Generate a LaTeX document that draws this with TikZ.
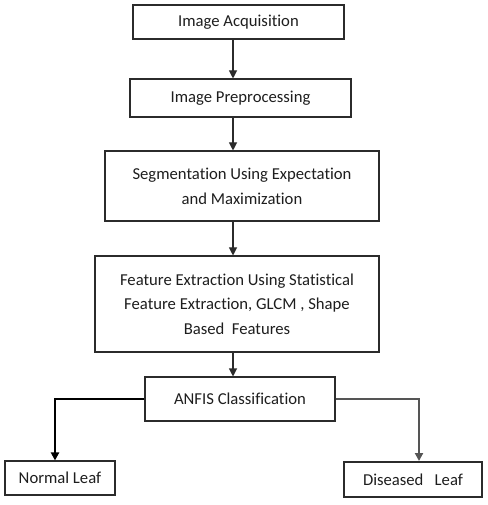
\documentclass[tikz,border=0pt]{standalone}
\usepackage{fontspec}
\setmainfont{Carlito}[Ligatures=NoCommon]
\usetikzlibrary{arrows.meta,positioning}
\definecolor{boxline}{HTML}{2B2B2B}
\definecolor{textgray}{HTML}{1E1E1E}
\tikzset{
  stagebox/.style={draw=boxline, line width=0.8pt, fill=white, align=center, inner sep=2pt, text=textgray, font=\fontsize{12.5}{18.5}\selectfont},
  heavybox/.style={stagebox, line width=1.5pt},
  flow/.style={boxline, line width=0.8pt, -{Triangle[width=6pt,length=6pt]}},
  branch/.style={black, line width=1.5pt, -{Triangle[width=6pt,length=6pt]}}
}

\begin{document}
\begin{tikzpicture}[x=0.75pt, y=-0.75pt]
  \useasboundingbox (0,0) rectangle (487,505);
  % pipeline stages
  \node[heavybox, minimum width=158.25pt, minimum height=25.5pt] (acq) at (238.5,22) {Image Acquisition};
  \node[stagebox, minimum width=165.75pt, minimum height=28.5pt] (pre) at (240.5,98) {Image Preprocessing};
  \node[stagebox, minimum width=205.5pt, minimum height=52.5pt] (seg) at (242,186) {Segmentation Using Expectation\\and Maximization};
  \node[stagebox, minimum width=213pt, minimum height=72pt] (feat) at (237,304) {Feature Extraction Using Statistical\\Feature Extraction, GLCM , Shape\\Based\ \ Features};
  \node[stagebox, minimum width=142.5pt, minimum height=33pt] (anfis) at (240,399) {ANFIS Classification};
  % outcomes
  \node[stagebox, minimum width=82.5pt, minimum height=25.5pt] (normal) at (60,478) {Normal Leaf};
  \node[heavybox, minimum width=103.5pt, minimum height=26.25pt] (diseased) at (413,479.5) {Diseased\ \ \ Leaf};
  \coordinate (spine) at (233,0);
  \draw[flow] (spine |- acq.south) -- (spine |- pre.north);
  \draw[flow] (spine |- pre.south) -- (spine |- seg.north);
  \draw[flow] (spine |- seg.south) -- (spine |- feat.north);
  \draw[flow] (spine |- feat.south) -- (spine |- anfis.north);
  \draw[branch] (anfis.west) -| ([xshift=-3.75pt]normal.north);
  \draw[branch, boxline!80] (anfis.east) -| ([xshift=4.5pt]diseased.north);
\end{tikzpicture}
\end{document}
